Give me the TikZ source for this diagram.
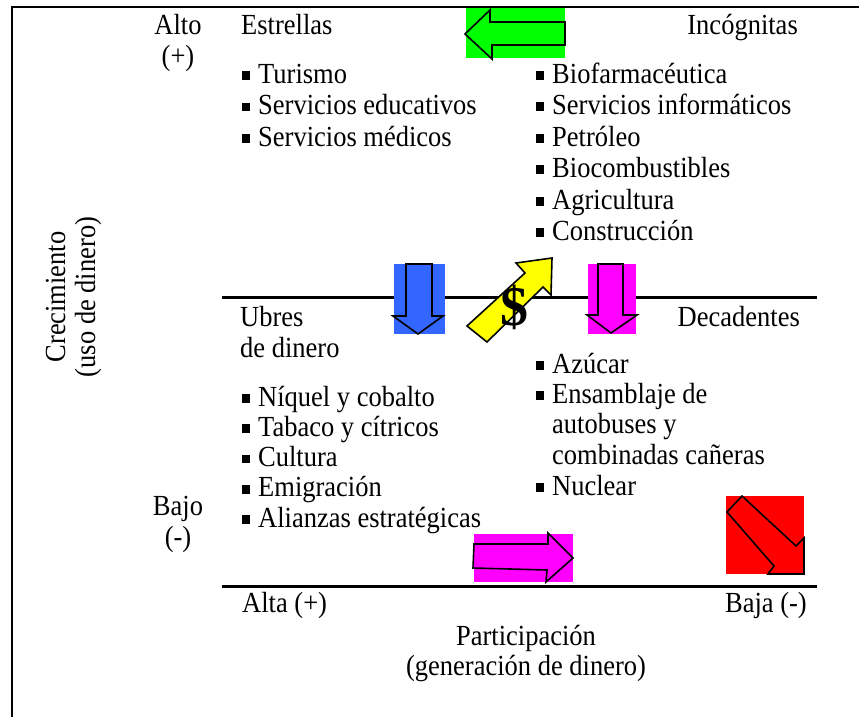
\documentclass[tikz,border=0pt]{standalone}
\usepackage{fontspec}
\setmainfont{Liberation Serif}
\usetikzlibrary{positioning}

\definecolor{boxgreen}{RGB}{0,255,0}
\definecolor{boxblue}{RGB}{51,102,255}
\definecolor{boxmagenta}{RGB}{255,0,255}
\definecolor{boxred}{RGB}{255,0,0}
\definecolor{arrowyellow}{RGB}{255,255,0}

\newcommand{\sq}{\rule[3pt]{8pt}{8pt}\hspace{8pt}}

\begin{document}
\begin{tikzpicture}[
    x=1pt, y=-1pt,
    lbl/.style={font=\fontsize{26.5}{31.5}\selectfont, inner sep=0pt},
    tall/.style={yscale=1.1},
    txt/.style={lbl, tall},
    item/.style={txt, anchor=base west},
    axis/.style={line width=3pt},
    blockarrow/.style={draw, line width=1.6pt, line join=miter}
]
    \useasboundingbox (0,0) rectangle (859,717);

    % Frame
    \draw[line width=2pt] (12,717) -- (12,7) -- (859,7);

    % Axes
    \draw[axis] (222,297) -- (817,297);
    \draw[axis] (222,586) -- (817,586);

    % Growth axis
    \node[txt, anchor=base] (alto) at (178,35) {Alto};
    \node[txt, anchor=base] (altosign) at (178,66) {(+)};
    \node[txt, anchor=base] (bajo) at (178,515) {Bajo};
    \node[txt, anchor=base] (bajosign) at (178,546) {(-)};
    \node[lbl, rotate=90, tall, anchor=base] (crec) at (65,297) {Crecimiento};
    \node[lbl, rotate=90, tall, anchor=base] (crecsub) at (95,297) {(uso de dinero)};

    % Participation axis
    \node[item] (alta) at (242,612) {Alta (+)};
    \node[txt, anchor=base east] (baja) at (807,612) {Baja (-)};
    \node[txt, anchor=base] (part) at (526,645) {Participación};
    \node[txt, anchor=base] (partsub) at (526,675) {(generación de dinero)};

    % Quadrant titles
    \node[item] (estrellas) at (241,35) {Estrellas};
    \node[txt, anchor=base east] (incog) at (798,35) {Incógnitas};
    \node[item] (ubres) at (240,326) {Ubres};
    \node[item] (ubressub) at (240,357) {de dinero};
    \node[txt, anchor=base east] (decad) at (800,326) {Decadentes};

    % Lists
    \foreach \t [count=\i] in {Turismo, Servicios educativos, Servicios médicos}
        \node[item] (star\i) at (242, 83+31.6*\i-31.6) {\sq\t};
    \foreach \t [count=\i] in {Biofarmacéutica, Servicios informáticos, Petróleo, Biocombustibles, Agricultura, Construcción}
        \node[item] (incog\i) at (536, 83+31.5*\i-31.5) {\sq\t};
    \foreach \t [count=\i] in {Níquel y cobalto, Tabaco y cítricos, Cultura, Emigración, Alianzas estratégicas}
        \node[item] (ubre\i) at (242, 406+30.3*\i-30.3) {\sq\t};
    \node[item] (dec1) at (536,373) {\sq Azúcar};
    \node[item] (dec2) at (536,403) {\sq Ensamblaje de};
    \node[item] (dec2b) at (552,433) {autobuses y};
    \node[item] (dec2c) at (552,464) {combinadas cañeras};
    \node[item] (dec3) at (536,495) {\sq Nuclear};

    % Green arrow
    \fill[boxgreen] (466,8) rectangle (565,58);
    \draw[blockarrow, fill=boxgreen] (465,34) -- (490,10) -- (490,22) -- (565,22) -- (565,45) -- (492,45) -- (492,59) -- cycle;

    % Blue arrow
    \fill[boxblue] (394,264) rectangle (445,334);
    \draw[blockarrow, fill=boxblue] (406,264) -- (432,264) -- (432,316) -- (443,316) -- (418,334) -- (393,316) -- (406,316) -- cycle;

    % Magenta arrow (down)
    \fill[boxmagenta] (588,264) rectangle (636,334);
    \draw[blockarrow, fill=boxmagenta] (598,264) -- (623,264) -- (623,315) -- (637,315) -- (611,333) -- (587,315) -- (598,315) -- cycle;

    % Yellow arrow with dollar
    \draw[blockarrow, fill=arrowyellow] (552,258) -- (516,263) -- (525,273) -- (467,326) -- (487,342) -- (543,287) -- (551,295) -- cycle;
    \node[font=\fontsize{56}{56}\selectfont\bfseries, inner sep=0pt] (dollar) at (514,307) {\$};

    % Magenta arrow (right)
    \fill[boxmagenta] (474,534) rectangle (573,582);
    \draw[blockarrow, fill=boxmagenta] (474,544) -- (548,544) -- (548,533) -- (573,558) -- (546,582) -- (547,570) -- (473,568) -- cycle;

    % Red arrow
    \fill[boxred] (726,496) rectangle (804,574);
    \draw[blockarrow, fill=boxred] (727,512) -- (742,496) -- (796,546) -- (804,538) -- (804,574) -- (768,574) -- (774,566) -- cycle;
\end{tikzpicture}
\end{document}
